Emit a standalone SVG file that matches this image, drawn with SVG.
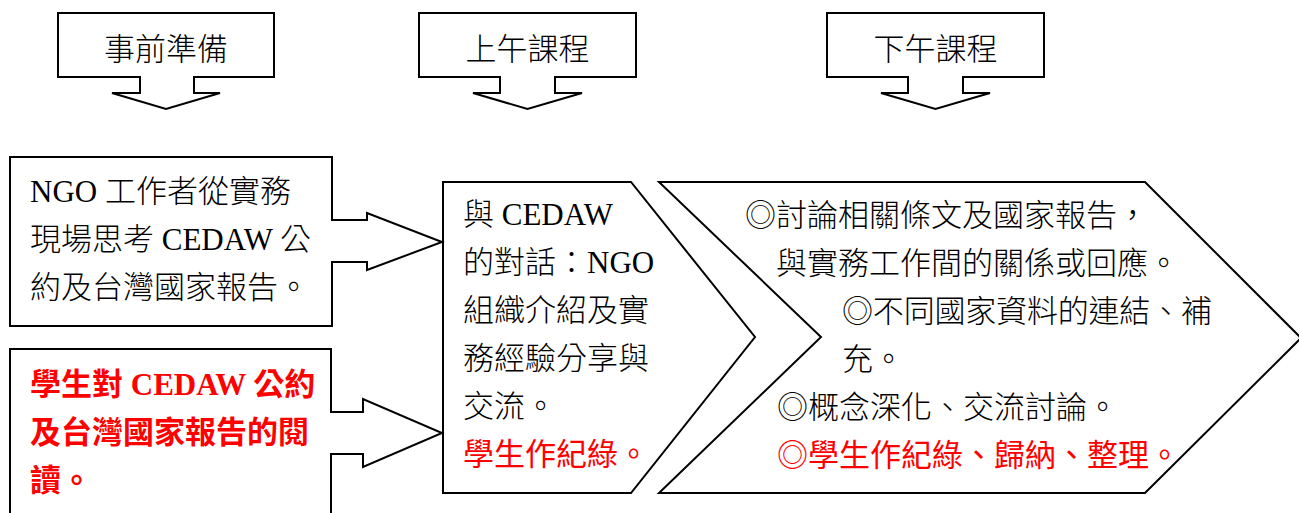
<svg xmlns="http://www.w3.org/2000/svg" width="1299" height="513" viewBox="0 0 1299 513">
<style>
.shape{fill:#fff;stroke:#000;stroke-width:2;stroke-linejoin:miter}
text{font-family:"Liberation Serif","Noto Sans CJK TC","Noto Sans CJK SC",serif;font-size:31px;fill:#000;font-weight:300}
.hd{font-size:31px;text-anchor:middle}
.red{fill:#ff0000;font-weight:400}
.b{font-weight:bold}
</style>
<rect width="1299" height="513" fill="#fff"/>

<g id="header-prep">
<path class="shape" d="M58,13 H274 V77 H194 V93 H220 L166,109 L112,93 H140 V77 H58 Z"/>
<text class="hd" x="166" y="60">事前準備</text>
</g>
<g id="header-morning">
<path class="shape" d="M419,13 H636 V77 H555 V93 H582 L527.5,109 L473,93 H500 V77 H419 Z"/>
<text class="hd" x="527.5" y="60">上午課程</text>
</g>
<g id="header-afternoon">
<path class="shape" d="M827,13 H1044 V77 H963 V93 H990 L935.5,109 L881,93 H908 V77 H827 Z"/>
<text class="hd" x="935.5" y="60">下午課程</text>
</g>

<g id="node-ngo">
<rect class="shape" x="10" y="157" width="322" height="169"/>
<text x="30" y="202">NGO 工作者從實務</text>
<text x="30" y="250">現場思考 CEDAW 公</text>
<text x="30" y="298">約及台灣國家報告。</text>
</g>

<g id="node-student">
<path class="shape" d="M10,520 V349 H331 V520"/>
<text class="red b" x="30" y="395">學生對 CEDAW 公約</text>
<text class="red b" x="30" y="443">及台灣國家報告的閱</text>
<text class="red b" x="30" y="491">讀。</text>
</g>

<g id="node-morning">
<path class="shape" d="M443,182 H631 L755,337 L631,493 H443 Z"/>
<text x="463" y="225">與 CEDAW</text>
<text x="463" y="273">的對話：NGO</text>
<text x="463" y="321">組織介紹及實</text>
<text x="463" y="369">務經驗分享與</text>
<text x="463" y="417">交流。</text>
<text class="red" x="463" y="465">學生作紀綠。</text>
</g>

<g id="node-afternoon">
<path class="shape" d="M659,182 H1145 L1301,338 L1145,493 H659 L821,337 Z"/>
<text x="745" y="226">◎討論相關條文及國家報告，</text>
<text x="776" y="274">與實務工作間的關係或回應。</text>
<text x="842" y="322" textLength="370" lengthAdjust="spacing">◎不同國家資料的連結、補</text>
<text x="842" y="370">充。</text>
<text x="777" y="418">◎概念深化、交流討論。</text>
<text class="red" x="777" y="466">◎學生作紀綠、歸納、整理。</text>
</g>

<g id="connectors">
<path class="shape" d="M331,220 H367 V213 L442,242 L367,270 V262 H331"/>
<path class="shape" d="M330,412 H363 V399 L442,433 L363,467 V454 H330"/>
</g>
</svg>
